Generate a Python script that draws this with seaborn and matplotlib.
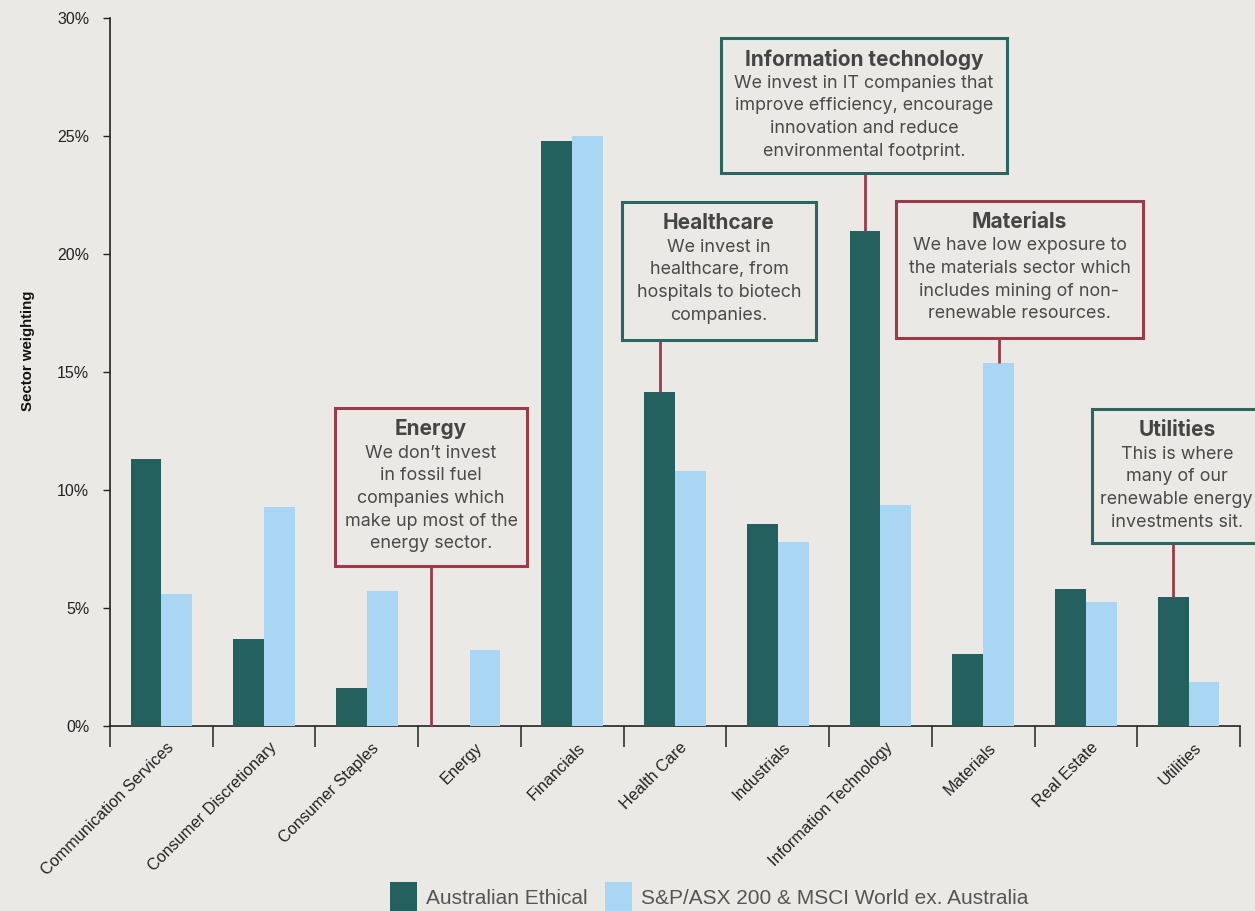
import matplotlib
matplotlib.use("Agg")
import matplotlib.pyplot as plt
import matplotlib.transforms as mtransforms
from matplotlib.patches import Rectangle, Patch
import seaborn as sns
import pandas as pd
import numpy as np

# ---------------- data ----------------
sectors = ["Communication Services", "Consumer Discretionary", "Consumer Staples", "Energy",
           "Financials", "Health Care", "Industrials", "Information Technology",
           "Materials", "Real Estate", "Utilities"]
australian_ethical = [11.3, 3.7, 1.6, 0.0, 24.8, 14.15, 8.55, 20.97, 3.05, 5.8, 5.47]
benchmark = [5.6, 9.3, 5.7, 3.2, 25.0, 10.8, 7.8, 9.36, 15.38, 5.25, 1.86]
series_names = ["Australian Ethical", "S&P/ASX 200 & MSCI World ex. Australia"]
y_ticks = [0, 5, 10, 15, 20, 25, 30]
y_tick_labels = ["0%", "5%", "10%", "15%", "20%", "25%", "30%"]
y_label = "Sector weighting"

note_titles = ["Energy", "Healthcare", "Information technology", "Materials", "Utilities"]
note_bodies = [
    ["We don\u2019t invest", "in fossil fuel", "companies which", "make up most of the", "energy sector."],
    ["We invest in", "healthcare, from", "hospitals to biotech", "companies."],
    ["We invest in IT companies that", "improve efficiency, encourage", "innovation and reduce",
     "environmental footprint."],
    ["We have low exposure to", "the materials sector which", "includes mining of non-",
     "renewable resources."],
    ["This is where", "many of our", "renewable energy", "investments sit."],
]
note_sectors = ["Energy", "Health Care", "Information Technology", "Materials", "Utilities"]
note_series = [0, 0, 0, 1, 0]

# ---------------- style / layout ----------------
DARK = "#24605D"
LIGHT = "#A8D6F3"
RED = "#9B3B4A"
TEAL = "#2B6661"
BG = "#EBE9E5"
TXT = "#4A4A4A"

# box extents (x0, x1, y0, y1) in data units, and connector x
note_boxes = [(1.69, 3.56, 6.78, 13.47), (4.484, 6.372, 16.36, 22.2), (5.448, 8.232, 23.43, 29.15),
              (7.151, 9.555, 16.44, 22.25), (9.059, 10.71, 7.75, 13.43)]
note_line_x = [2.625, 4.85, 6.85, 8.15, 9.85]
note_edge = [RED, TEAL, TEAL, RED, TEAL]

sns.set_style("ticks")
plt.rcParams["font.family"] = ["Liberation Sans", "DejaVu Sans"]

fig = plt.figure(figsize=(12.55, 9.11), dpi=100)
fig.patch.set_facecolor(BG)
ax = fig.add_axes([110 / 1255, 1 - 726 / 911, 1130 / 1255, 708 / 911])
ax.set_facecolor(BG)

df = pd.DataFrame({
    "Sector": sectors * 2,
    "Weight": australian_ethical + benchmark,
    "Series": [series_names[0]] * len(sectors) + [series_names[1]] * len(sectors),
})
sns.barplot(data=df, x="Sector", y="Weight", hue="Series", hue_order=series_names,
            palette=[DARK, LIGHT], width=0.6, saturation=1, errorbar=None,
            linewidth=0, ax=ax, legend=False, zorder=3)

ax.set_xlim(-0.5, len(sectors) - 0.5)
ax.set_ylim(0, 30)
ax.set_yticks(y_ticks)
ax.set_yticklabels(y_tick_labels, fontsize=11.5, color="#222222")
ax.tick_params(axis="y", length=5, width=1, color="#222222", pad=10)
ax.set_xticks(range(len(sectors)))
ax.set_xticklabels(sectors, rotation=45, ha="right", va="center", rotation_mode="anchor",
                   fontsize=11.7, color="#222222")
ax.tick_params(axis="x", which="major", length=0, pad=14)
shift = mtransforms.ScaledTranslation(10 / 100, 0, fig.dpi_scale_trans)
for lab in ax.get_xticklabels():
    lab.set_transform(lab.get_transform() + shift)
ax.set_xticks(np.arange(-0.5, len(sectors), 1), minor=True)
ax.tick_params(axis="x", which="minor", length=15, width=1.2, color="#333333")
ax.set_xlabel("")
ax.set_ylabel(y_label, fontsize=10.8, fontweight="bold", color="#111111")
ax.yaxis.set_label_coords(-0.066, 0.53)
for s in ["top", "right"]:
    ax.spines[s].set_visible(False)
for s in ["left", "bottom"]:
    ax.spines[s].set_linewidth(1.2)
    ax.spines[s].set_color("#222222")

# ---------------- annotations ----------------
values = [australian_ethical, benchmark]
for title, body, sec, ser, box, lx, ec in zip(note_titles, note_bodies, note_sectors, note_series,
                                              note_boxes, note_line_x, note_edge):
    x0, x1, y0, y1 = box
    top_val = values[ser][sectors.index(sec)]
    ax.plot([lx, lx], [top_val, y0], color=RED, lw=2.0, solid_capstyle="butt", zorder=4, clip_on=False)
    ax.add_patch(Rectangle((x0, y0), x1 - x0, y1 - y0, facecolor=BG, edgecolor=ec, lw=2.2,
                           zorder=5, clip_on=False))
    cx = (x0 + x1) / 2
    tr = mtransforms.offset_copy(ax.transData, fig=fig, x=0, y=-21, units="dots")
    ax.text(cx, y1, title, transform=tr, ha="center", va="center", fontsize=15,
            fontweight="bold", color="#454545", family=["Inter", "DejaVu Sans"], zorder=6, clip_on=False)
    for k, line in enumerate(body):
        trk = mtransforms.offset_copy(ax.transData, fig=fig, x=0, y=-(45 + 22.7 * k), units="dots")
        ax.text(cx, y1, line, transform=trk, ha="center", va="center", fontsize=12.9,
                color=TXT, family=["Inter", "DejaVu Sans"], zorder=6, clip_on=False)

# ---------------- legend ----------------
handles = [Patch(facecolor=DARK, edgecolor="none"), Patch(facecolor=LIGHT, edgecolor="none")]
fig.legend(handles, series_names, loc="upper left", bbox_to_anchor=(390 / 1255, 1 - 882 / 911),
           ncol=2, frameon=False, fontsize=15, labelcolor="#555555", handlelength=1.3,
           handleheight=1.9, handletextpad=0.45, columnspacing=0.8, borderpad=0, borderaxespad=0)

fig.savefig("out.png", dpi=100, facecolor=BG)
